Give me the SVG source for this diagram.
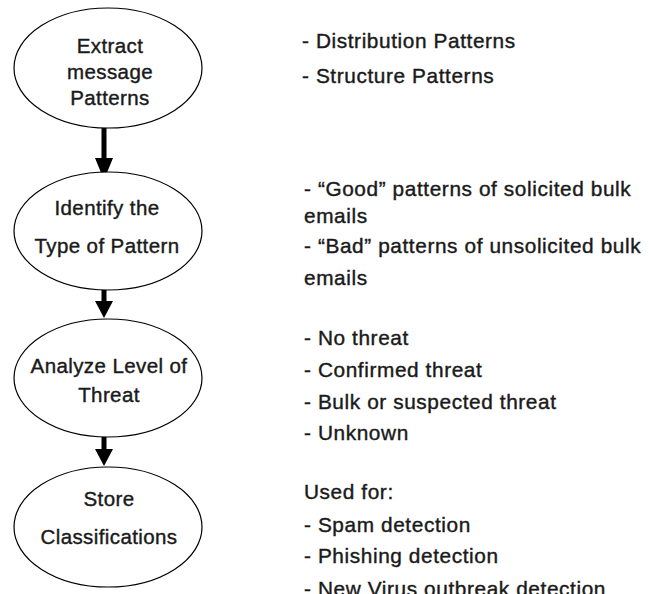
<svg xmlns="http://www.w3.org/2000/svg" width="649" height="594" viewBox="0 0 649 594">
<style>
.node ellipse{fill:#fff;stroke:#000;stroke-width:1.2}
.nt{font-family:"Liberation Sans",Arial,sans-serif;font-size:20.5px;fill:#1a1a1a;text-anchor:middle;stroke:#1a1a1a;stroke-width:0.4;letter-spacing:0.4px}
.rt{font-family:"Liberation Sans",Arial,sans-serif;font-size:20.8px;fill:#1a1a1a;stroke:#1a1a1a;stroke-width:0.4;letter-spacing:0.6px}
.arr{fill:#000}
</style>
<rect width="649" height="594" fill="#fff"/>
<g id="connectors">
<path class="arr" d="M101.5,128 H106.5 V158 H113 L104,180 L95,158 H101.5 Z"/>
<path class="arr" d="M101.5,290 H106.5 V301 H113 L104,318 L95,301 H101.5 Z"/>
<path class="arr" d="M101.5,437 H106.5 V449 H113 L104,466 L95,449 H101.5 Z"/>
</g>
<g id="node1" class="node">
<ellipse cx="108" cy="68" rx="94" ry="60"/>
<text class="nt" x="110" y="53">Extract</text>
<text class="nt" x="110" y="79">message</text>
<text class="nt" x="110" y="105">Patterns</text>
</g>
<g id="node2" class="node">
<ellipse cx="108" cy="231" rx="94" ry="59"/>
<text class="nt" x="107" y="215">Identify the</text>
<text class="nt" x="107" y="253">Type of Pattern</text>
</g>
<g id="node3" class="node">
<ellipse cx="108" cy="378" rx="94" ry="59"/>
<text class="nt" x="109" y="373">Analyze Level of</text>
<text class="nt" x="109" y="402">Threat</text>
</g>
<g id="node4" class="node">
<ellipse cx="108" cy="527" rx="94" ry="60"/>
<text class="nt" x="109" y="506">Store</text>
<text class="nt" x="109" y="544">Classifications</text>
</g>
<g id="notes">
<text class="rt" x="302" y="48">- Distribution Patterns</text>
<text class="rt" x="302" y="83">- Structure Patterns</text>
<text class="rt" x="304" y="196">- “Good” patterns of solicited bulk</text>
<text class="rt" x="304" y="223">emails</text>
<text class="rt" x="304" y="253">- “Bad” patterns of unsolicited bulk</text>
<text class="rt" x="304" y="285">emails</text>
<text class="rt" x="304" y="345">- No threat</text>
<text class="rt" x="304" y="377">- Confirmed threat</text>
<text class="rt" x="304" y="409">- Bulk or suspected threat</text>
<text class="rt" x="304" y="440">- Unknown</text>
<text class="rt" x="304" y="499">Used for:</text>
<text class="rt" x="304" y="532">- Spam detection</text>
<text class="rt" x="304" y="563">- Phishing detection</text>
<text class="rt" x="304" y="596">- New Virus outbreak detection</text>
</g>
</svg>
